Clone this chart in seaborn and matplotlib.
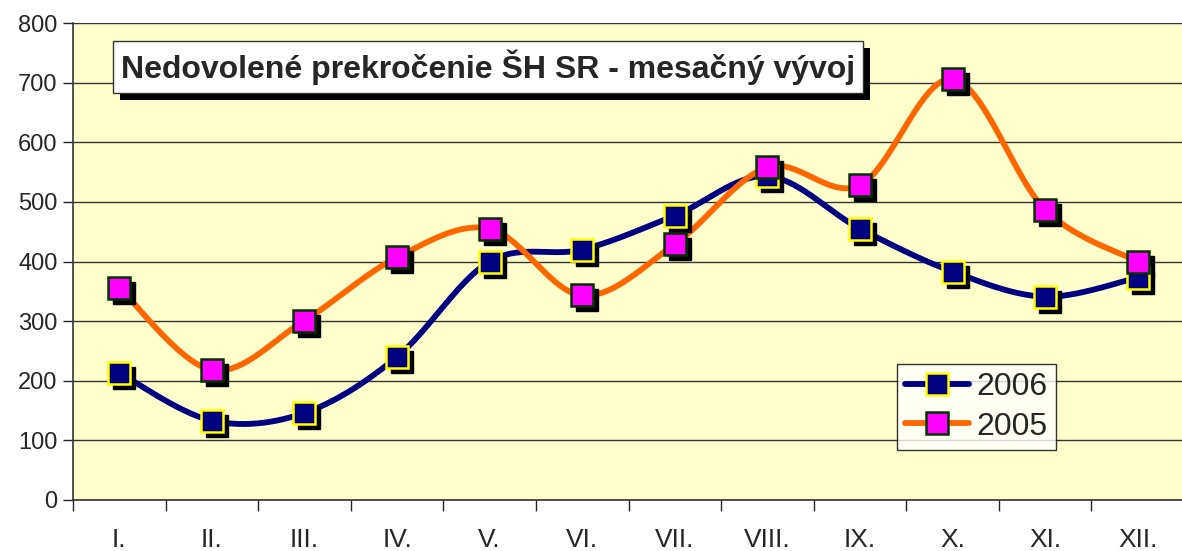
import numpy as np
import pandas as pd
import seaborn as sns
import matplotlib.pyplot as plt
from matplotlib.lines import Line2D
from matplotlib.patches import Rectangle
from matplotlib import transforms

# data
months = ["I.", "II.", "III.", "IV.", "V.", "VI.", "VII.", "VIII.", "IX.", "X.", "XI.", "XII."]
y2006 = [213, 133, 146, 240, 400, 420, 477, 543, 455, 383, 341, 373]
y2005 = [356, 218, 301, 407, 455, 343, 429, 558, 528, 706, 487, 400]

sns.set_style("white")
plt.rcParams['font.family'] = ['Liberation Sans', 'DejaVu Sans']

fig = plt.figure(figsize=(11.82, 5.51), dpi=100)
ax = fig.add_axes([73 / 1182, 51 / 551, 1111 / 1182, 477 / 551])
ax.set_facecolor("#FFFFCC")


def smooth(vals, n=30):
    # Catmull-Rom style curve like Excel's smoothed line
    p = np.array(vals, dtype=float)
    x = np.arange(len(p), dtype=float)
    P = np.column_stack([x, p])
    P = np.vstack([P[0], P, P[-1]])
    out = []
    for i in range(1, len(P) - 2):
        p0, p1, p2, p3 = P[i - 1], P[i], P[i + 1], P[i + 2]
        c1 = p1 + (p2 - p0) / 6
        c2 = p2 - (p3 - p1) / 6
        t = np.linspace(0, 1, n)[:, None]
        b = (1 - t) ** 3 * p1 + 3 * (1 - t) ** 2 * t * c1 + 3 * (1 - t) * t ** 2 * c2 + t ** 3 * p2
        out.append(b)
    out = np.vstack(out)
    return out[:, 0], out[:, 1]


series = [("2006", y2006, "#000080", "#000080", "#FFFF00"),
          ("2005", y2005, "#FF6600", "#FF00FF", "#003300")]

shadow = transforms.offset_copy(ax.transData, fig=fig, x=5, y=-5, units="dots")
handles = []
for name, vals, lc, mfc, mec in series:
    sx, sy = smooth(vals)
    df = pd.DataFrame({"x": sx, "y": sy})
    sns.lineplot(data=df, x="x", y="y", ax=ax, color=lc, lw=4.2, sort=False,
                 estimator=None, zorder=3)
for name, vals, lc, mfc, mec in series:
    ax.plot(range(12), vals, ls="none", marker="s", ms=16, color="black",
            transform=shadow, zorder=4)
    ax.plot(range(12), vals, ls="none", marker="s", ms=16, mfc=mfc, mec=mec,
            mew=1.8, zorder=5)
    handles.append(Line2D([], [], color=lc, lw=4.2, marker="s", ms=16,
                          mfc=mfc, mec=mec, mew=1.8, label=name))

ax.set_xlim(-0.5, 11.5)
ax.set_ylim(0, 800)
ax.set_yticks(range(0, 801, 100))
ax.tick_params(axis="y", labelsize=17, length=7, width=1, direction="out", left=True, pad=4)
ax.set_xticks(range(12))
ax.set_xticklabels(months, fontsize=19)
ax.set_xticks(np.arange(-0.5, 12, 1), minor=True)
ax.tick_params(axis="x", which="major", length=0, pad=20)
ax.tick_params(axis="x", which="minor", length=8, width=1, direction="out", bottom=True)
ax.grid(axis="y", color="#333333", lw=1)
ax.set_axisbelow(True)
for s in ["top", "right"]:
    ax.spines[s].set_visible(False)
for s in ["left", "bottom"]:
    ax.spines[s].set_color("#333333")
    ax.spines[s].set_linewidth(1.2)
ax.set_xlabel("")
ax.set_ylabel("")

title = "Nedovolené prekročenie ŠH SR - mesačný vývoj"
t = ax.text(0.043, 0.908, title, transform=ax.transAxes, fontsize=23, fontweight="bold",
            va="center", ha="left",
            bbox=dict(boxstyle="square,pad=0.25", fc="white", ec="#333333", lw=1), zorder=7)

# drop shadow behind the title box
fig.canvas.draw()
bb = t.get_bbox_patch().get_window_extent(fig.canvas.get_renderer())
ax.add_patch(Rectangle((bb.x0 + 7, bb.y0 - 7), bb.width, bb.height, transform=None,
                       fc="black", ec="none", zorder=6))

leg = ax.legend(handles=handles, loc="upper left", bbox_to_anchor=(824 / 1111, 136 / 477),
                fontsize=23, frameon=True, fancybox=False, handlelength=2.0,
                borderpad=0.25, labelspacing=0.3, handletextpad=0.25, borderaxespad=0)
leg.get_frame().set_edgecolor("black")
leg.get_frame().set_linewidth(1)
leg.set_zorder(8)

fig.savefig("out.png", dpi=100)
